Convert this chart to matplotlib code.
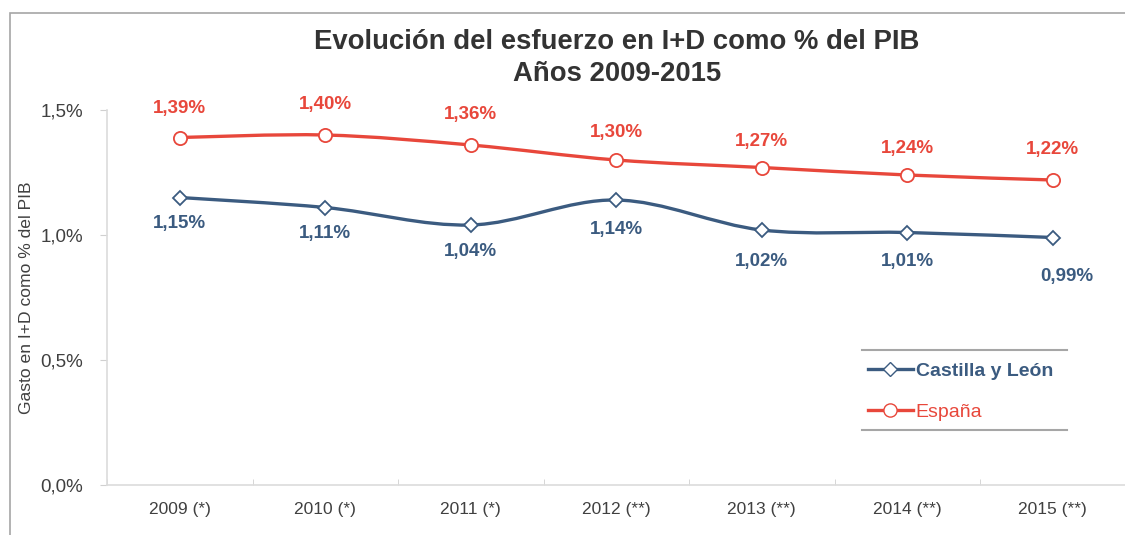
import matplotlib
matplotlib.use("Agg")
import matplotlib.pyplot as plt
from matplotlib.path import Path
from matplotlib.patches import PathPatch, Rectangle
from matplotlib.lines import Line2D
import numpy as np

plt.rcParams['font.family'] = ['Liberation Sans', 'DejaVu Sans']

categories = ["2009 (*)", "2010 (*)", "2011 (*)", "2012 (**)", "2013 (**)", "2014 (**)", "2015 (**)"]
castilla = [1.15, 1.11, 1.04, 1.14, 1.02, 1.01, 0.99]
espana = [1.39, 1.40, 1.36, 1.30, 1.27, 1.24, 1.22]
yticks = [0.0, 0.5, 1.0, 1.5]

BLUE = "#3b5b80"
RED = "#e8473b"
GRAY_TXT = "#404040"

W, H = 1125, 535
fig = plt.figure(figsize=(W / 100, H / 100), dpi=100)
ax = fig.add_axes([107 / W, 50 / H, 1018.5 / W, 375 / H])

# outer frame
fig.add_artist(Rectangle((10 / W, -0.1), 1.2, (535 - 13) / H + 0.1, transform=fig.transFigure,
                         fill=False, edgecolor="#a6a6a6", lw=1.2))

x = np.arange(len(categories))


def smooth_path(xs, ys):
    pts = np.column_stack([xs, ys]).astype(float)
    n = len(pts)
    verts = [pts[0]]
    codes = [Path.MOVETO]
    for i in range(n - 1):
        p0 = pts[i - 1] if i > 0 else pts[i]
        p1 = pts[i]
        p2 = pts[i + 1]
        p3 = pts[i + 2] if i + 2 < n else pts[i + 1]
        c1 = p1 + (p2 - p0) / 6.0
        c2 = p2 - (p3 - p1) / 6.0
        verts += [c1, c2, p2]
        codes += [Path.CURVE4] * 3
    return Path(verts, codes)


for vals, col in [(castilla, BLUE), (espana, RED)]:
    ax.add_patch(PathPatch(smooth_path(x, vals), facecolor="none", edgecolor=col, lw=2.4,
                           zorder=3, capstyle="round"))

ax.plot(x, castilla, linestyle="none", marker="D", markersize=7, markerfacecolor="white",
        markeredgecolor=BLUE, markeredgewidth=1.3, zorder=4)
ax.plot(x, espana, linestyle="none", marker="o", markersize=9.5, markerfacecolor="white",
        markeredgecolor=RED, markeredgewidth=1.3, zorder=4)

blue_off = [(0, -19), (0, -19), (0, -19), (0, -21), (0, -23), (0, -21), (10, -28)]
red_off = [(0, 21), (0, 22), (0, 22), (0, 20), (0, 19), (0, 19), (0, 22)]
for i, v in enumerate(castilla):
    ax.annotate(f"{v:.2f}%".replace(".", ","), (x[i], v), xytext=blue_off[i], textcoords="offset points",
                ha="center", va="center", color=BLUE, fontsize=13.5, fontweight="bold")
for i, v in enumerate(espana):
    ax.annotate(f"{v:.2f}%".replace(".", ","), (x[i], v), xytext=red_off[i], textcoords="offset points",
                ha="center", va="center", color=RED, fontsize=13.5, fontweight="bold")

ax.set_xlim(-0.5, len(categories) - 0.5)
ax.set_ylim(0, 1.5)
ax.set_yticks(yticks)
ax.set_yticklabels([f"{t:.1f}%".replace(".", ",") for t in yticks], fontsize=13.5, color=GRAY_TXT)
ax.set_xticks(x)
ax.set_xticklabels(categories, fontsize=12.5, color=GRAY_TXT)
ax.tick_params(axis="x", length=0, pad=12)
ax.set_xticks(np.arange(-0.5, len(categories), 1.0), minor=True)
ax.tick_params(axis="x", which="minor", length=4, color="#d0d0d0", direction="in")
ax.tick_params(axis="y", length=5, color="#d0d0d0", pad=12)
for s in ["top", "right"]:
    ax.spines[s].set_visible(False)
for s in ["left", "bottom"]:
    ax.spines[s].set_color("#dcdcdc")
    ax.spines[s].set_linewidth(1.2)
ax.set_ylabel("Gasto en I+D como % del PIB", fontsize=12.6, color=GRAY_TXT)
ax.yaxis.set_label_coords(-73 / 1018.5, 0.5)

fig.text(617 / W, 1 - 42 / H, "Evolución del esfuerzo en I+D como % del PIB", ha="center", va="center",
         fontsize=19.8, fontweight="bold", color="#333333")
fig.text(617 / W, 1 - 74 / H, "Años 2009-2015", ha="center", va="center",
         fontsize=19.8, fontweight="bold", color="#333333")

# legend
handles = [Line2D([], [], color=BLUE, lw=2.4, marker="D", markersize=7, markerfacecolor="white",
                  markeredgecolor=BLUE),
           Line2D([], [], color=RED, lw=2.4, marker="o", markersize=9.5, markerfacecolor="white",
                  markeredgecolor=RED)]
leg = ax.legend(handles, ["Castilla y León", "España"], loc="upper left",
                bbox_to_anchor=(868 / W, 1 - 362 / H), bbox_transform=fig.transFigure,
                frameon=False, fontsize=14, handlelength=2.3, handletextpad=0.15,
                labelspacing=1.2, borderaxespad=0, borderpad=0.0)
txts = leg.get_texts()
txts[0].set_color(BLUE)
txts[0].set_fontweight("bold")
txts[1].set_color(RED)
for yy in [350, 430]:
    fig.add_artist(Line2D([862 / W, 1067 / W], [1 - yy / H, 1 - yy / H], transform=fig.transFigure,
                          color="#a6a6a6", lw=1.5))

fig.savefig("out.png", dpi=100)
